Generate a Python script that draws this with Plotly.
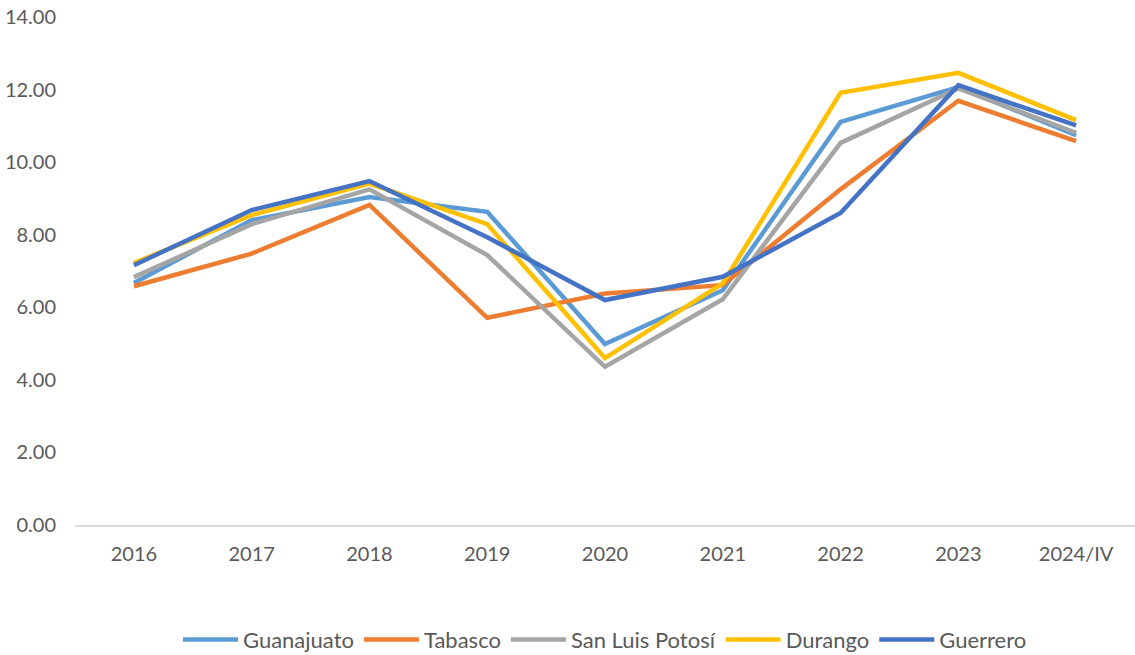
import plotly.graph_objects as go

years = ["2016", "2017", "2018", "2019", "2020", "2021", "2022", "2023", "2024/IV"]
guanajuato = [6.67, 8.40, 9.04, 8.63, 4.99, 6.47, 11.11, 12.07, 10.74]
tabasco = [6.58, 7.48, 8.82, 5.71, 6.38, 6.61, 9.25, 11.69, 10.58]
slp = [6.83, 8.29, 9.25, 7.44, 4.36, 6.22, 10.53, 12.03, 10.81]
durango = [7.22, 8.54, 9.41, 8.29, 4.60, 6.66, 11.91, 12.46, 11.16]
guerrero = [7.16, 8.68, 9.48, 7.93, 6.20, 6.84, 8.60, 12.12, 11.01]
y_ticks = [0, 2, 4, 6, 8, 10, 12, 14]

series = [
    ("Guanajuato", guanajuato, "#5B9BD5"),
    ("Tabasco", tabasco, "#ED7D31"),
    ("San Luis Potosí", slp, "#A5A5A5"),
    ("Durango", durango, "#FFC000"),
    ("Guerrero", guerrero, "#4472C4"),
]

font_family = "Century Gothic, Lato, Noto Sans, sans-serif"

fig = go.Figure()
for name, vals, col in series:
    fig.add_trace(go.Scatter(
        x=years, y=vals, name=name, mode="lines",
        line=dict(color=col, width=4.5),
    ))

fig.update_layout(
    width=1135, height=655,
    margin=dict(l=75, r=0, t=17, b=130, autoexpand=False),
    paper_bgcolor="white", plot_bgcolor="white",
    font=dict(family=font_family, size=20, color="#595959"),
    showlegend=True,
    legend=dict(
        orientation="h", x=0.5, xanchor="center", xref="paper",
        yref="paper", y=-0.226, yanchor="middle",
        font=dict(size=22, color="#595959"),
        itemwidth=55, tracegroupgap=0,
    ),
    xaxis=dict(
        type="category", range=[-0.5, 8.5], automargin=False,
        showgrid=False, zeroline=False,
        showline=True, linecolor="#D9D9D9", linewidth=1.5,
        ticks="", ticklabelstandoff=10,
        tickfont=dict(size=20, color="#595959"),
    ),
    yaxis=dict(
        range=[0, 14], tickvals=y_ticks, automargin=False,
        tickformat=".2f", ticklabeloverflow="allow",
        showgrid=False, zeroline=False, showline=False,
        ticks="", ticklabelstandoff=18,
        tickfont=dict(size=20, color="#595959"),
    ),
)

fig.write_html(
    "out.html",
    config={"displayModeBar": False},
    post_script="document.body.style.margin='0';document.body.style.overflow='hidden';",
)
